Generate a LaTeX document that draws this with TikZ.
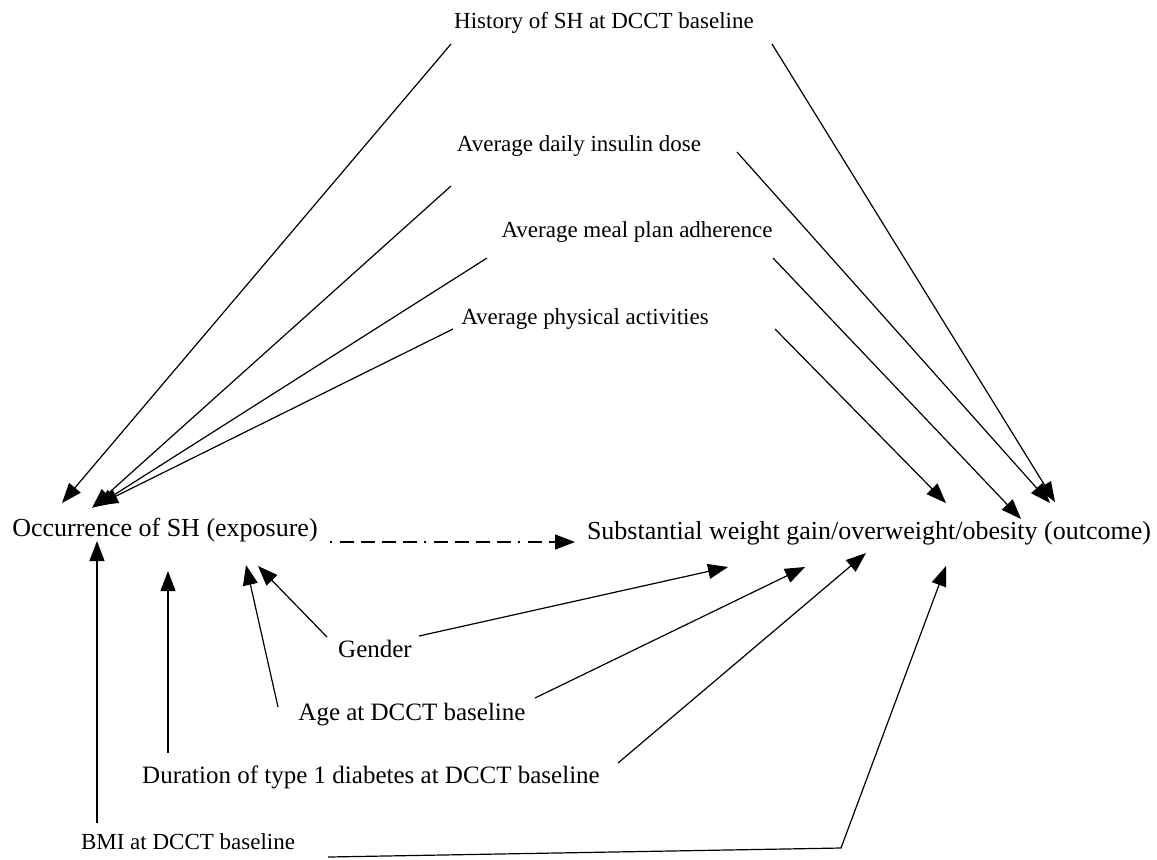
\documentclass[tikz,border=0pt]{standalone}
\usepackage{fontspec}
\setmainfont{Liberation Serif}
\usetikzlibrary{arrows.meta,calc}
\tikzset{
  lbl/.style={inner sep=0pt, text height=0.7em, text depth=0.2em, anchor=center},
  small/.style={lbl, font=\fontsize{11.5}{13}\selectfont},
  mid/.style={lbl, font=\fontsize{12.5}{14}\selectfont},
  big/.style={lbl, font=\fontsize{13}{15}\selectfont},
  arr/.style={line width=0.6pt, -{Triangle[length=10pt,width=7.5pt]}},
  dashdot/.style={arr, dash pattern=on 1pt off 4pt on 7pt off 3.5pt on 7pt off 3.5pt on 7pt off 3.5pt on 7pt off 3.5pt}
}
\begin{document}
\begin{tikzpicture}[x=0.5pt,y=-0.5pt]
\useasboundingbox (0,0) rectangle (1157,859);
\node[small] (hist) at (604,23) {History of SH at DCCT baseline};
\node[small] (ins)  at (579,146) {Average daily insulin dose};
\node[small] (meal) at (637,232) {Average meal plan adherence};
\node[small] (phys) at (585,319) {Average physical activities};
\node[big]   (occ)  at (165,531) {Occurrence of SH (exposure)};
\node[big]   (out)  at (869,534) {Substantial weight gain/overweight/obesity (outcome)};
\node[mid]   (gen)  at (375,652) {Gender};
\node[mid]   (age)  at (412,715) {Age at DCCT baseline};
\node[mid]   (dur)  at (371,778) {Duration of type 1 diabetes at DCCT baseline};
\node[small] (bmi)  at (188,844) {BMI at DCCT baseline};

% to exposure, from above
\draw[arr] ($(hist.center)+(-153,21)$) -- ($(occ.center)+(-103,-28)$);
\draw[arr] ($(ins.center)+(-128,40)$)  -- ($(occ.center)+(-73,-23)$);
\draw[arr] ($(meal.center)+(-150,26)$) -- ($(occ.center)+(-70,-24)$);
\draw[arr] ($(phys.center)+(-132,10)$) -- ($(occ.center)+(-67,-26)$);
% to outcome, from above
\draw[arr] ($(hist.center)+(168,21)$)  -- ($(out.center)+(186,-32)$);
\draw[arr] ($(ins.center)+(158,6)$)    -- ($(out.center)+(181,-31)$);
\draw[arr] ($(meal.center)+(136,26)$)  -- ($(out.center)+(152,-15)$);
\draw[arr] ($(phys.center)+(190,10)$)  -- ($(out.center)+(77,-31)$);
% exposure -> outcome
\draw[dashdot] ($(occ.center)+(165,11)$) -- ($(out.center)+(-294,8)$);
% to exposure, from below
\draw[arr] ($(bmi.center)+(-91,-21)$)  -- ($(occ.center)+(-68,10)$);
\draw[arr] ($(dur.center)+(-203,-25)$) -- ($(occ.center)+(3,40)$);
\draw[arr] ($(age.center)+(-134,-8)$)  -- ($(occ.center)+(81,34)$);
\draw[arr] ($(gen.center)+(-48,-15)$)  -- ($(occ.center)+(93,35)$);
% to outcome, from below
\draw[arr] ($(gen.center)+(44,-16)$)   -- ($(out.center)+(-141,33)$);
\draw[arr] ($(age.center)+(123,-17)$)  -- ($(out.center)+(-64,33)$);
\draw[arr] ($(dur.center)+(247,-15)$)  -- ($(out.center)+(-3,19)$);
\coordinate (bend) at (841,848);
\draw[arr] ($(bmi.center)+(140,13)$) -- (bend) -- ($(out.center)+(77,32)$);
\end{tikzpicture}
\end{document}
